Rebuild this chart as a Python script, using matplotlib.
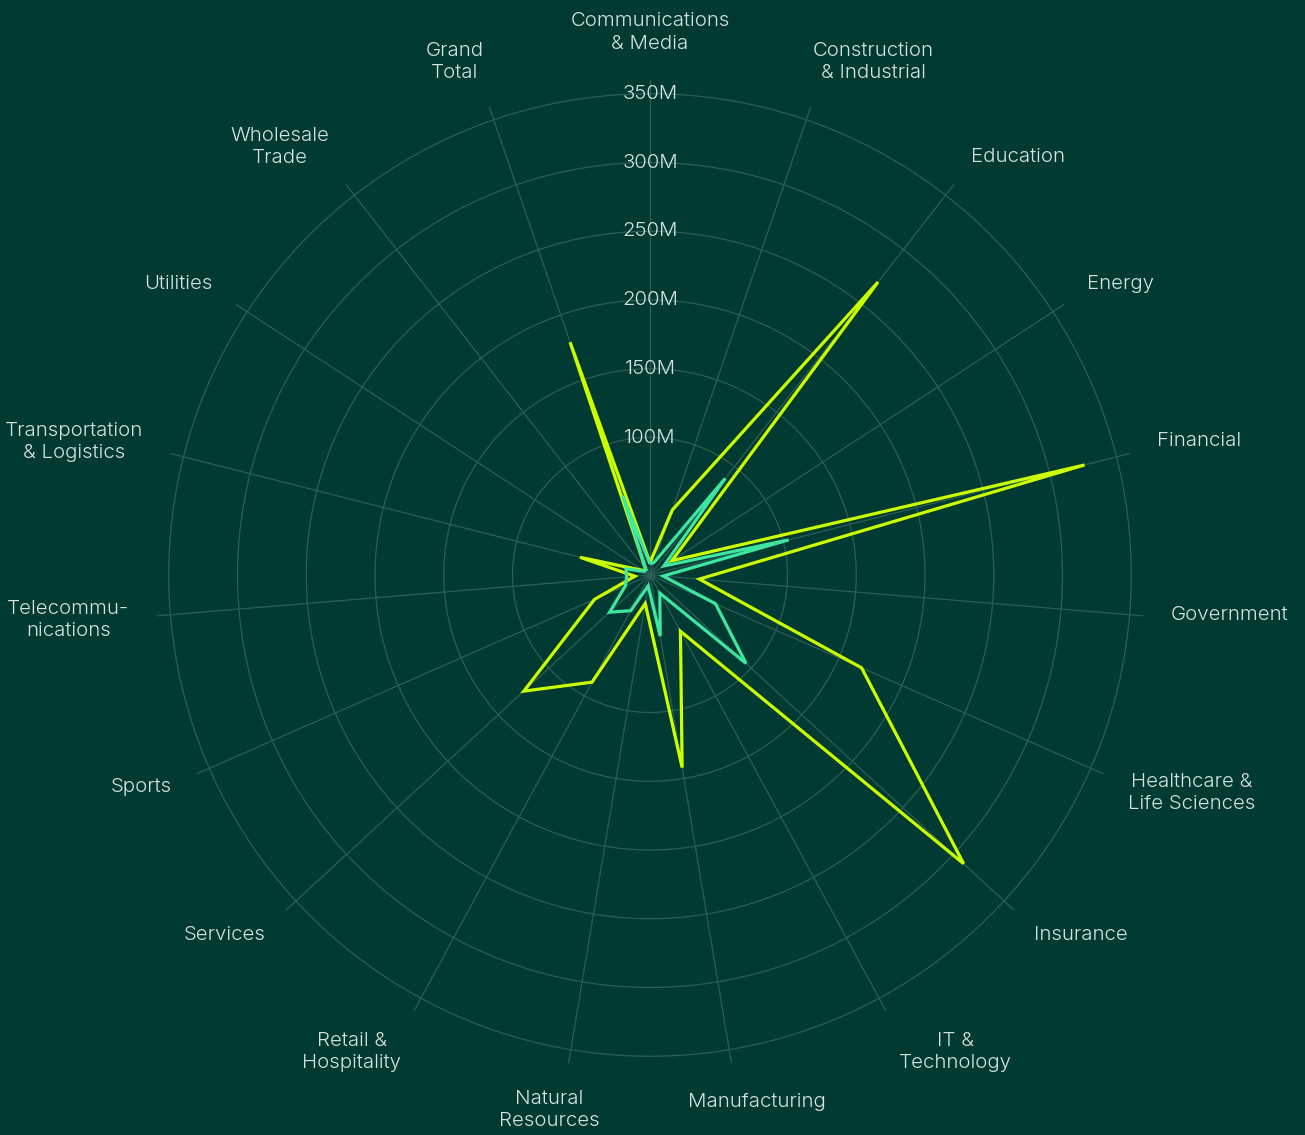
import numpy as np
import matplotlib
matplotlib.use("Agg")
import matplotlib.pyplot as plt

# ---- data -------------------------------------------------------------
categories = [
    "Communications\n& Media", "Construction\n& Industrial", "Education",
    "Energy", "Financial", "Government", "Healthcare &\nLife Sciences",
    "Insurance", "IT &\nTechnology", "Manufacturing", "Natural\nResources",
    "Retail &\nHospitality", "Services", "Sports", "Telecommu-\nnications",
    "Transportation\n& Logistics", "Utilities", "Wholesale\nTrade",
    "Grand\nTotal",
]
# values in millions
primary_values = [9, 50, 270, 19, 326, 36, 168, 310, 46.5, 142, 21, 88.6,
                  124.7, 44, 11, 52.6, 6, 5, 179]
secondary_values = [8, 10, 89, 12, 104, 9.5, 52, 95, 15, 45, 8, 29.5,
                    40, 19.5, 17, 18, 5, 5, 61]
ring_values = [100, 150, 200, 250, 300, 350]
ring_labels = ["100M", "150M", "200M", "250M", "300M", "350M"]

# ---- style ------------------------------------------------------------
BG = "#013a32"
GRID = "#2c5e56"
TEXT = "#d5e2dc"
LIME = "#ccff00"
MINT = "#3ee6a0"
FS = 14.7
plt.rcParams["font.family"] = ["Inter", "DejaVu Sans"]
plt.rcParams["font.weight"] = 300

W, H, DPI = 1305, 1135, 100
fig = plt.figure(figsize=(W / DPI, H / DPI), dpi=DPI, facecolor=BG)

R_MAX = 360.0
radius_px = 495.0
cx, cy = 650.0, 575.0
ax = fig.add_axes([(cx - radius_px) / W, (H - cy - radius_px) / H,
                   2 * radius_px / W, 2 * radius_px / H], projection="polar")
ax.set_facecolor(BG)
ax.set_theta_zero_location("N")
ax.set_theta_direction(-1)
ax.set_ylim(0, R_MAX)
ax.spines["polar"].set_visible(False)
ax.grid(False)
ax.set_xticks([])
ax.set_yticks([])

n = len(categories)
angles = np.arange(n) * 2 * np.pi / n

# rings and spokes
ring_theta = np.linspace(0, 2 * np.pi, 400)
for v in ring_values:
    ax.plot(ring_theta, np.full_like(ring_theta, v), color=GRID, lw=0.9,
            zorder=1)
for a in angles:
    ax.plot([a, a], [0, R_MAX], color=GRID, lw=0.9, zorder=1)

# series
closed = np.append(angles, angles[0])
for vals, col, z in ((primary_values, LIME, 3), (secondary_values, MINT, 4)):
    ax.plot(closed, np.append(vals, vals[0]), color=col, lw=2.3, zorder=z,
            solid_joinstyle="miter", solid_capstyle="butt")

# radial tick labels along the top spoke
for v, lab in zip(ring_values, ring_labels):
    ax.text(0, v, lab, color=TEXT, fontsize=FS, ha="center", va="center",
            zorder=5, fontweight=300)

# category labels placed just outside the grid
label_r = 380.0
texts = []
for a, lab in zip(angles, categories):
    t = ax.annotate(lab, xy=(a, label_r), xytext=(0, 0),
                    textcoords="offset pixels", ha="center", va="center",
                    multialignment="center", color=TEXT, fontsize=FS,
                    fontweight=300, annotation_clip=False, linespacing=1.3)
    texts.append(t)

fig.canvas.draw()
renderer = fig.canvas.get_renderer()
for a, t, lab in zip(angles, texts, categories):
    bb = t.get_window_extent(renderer)
    w, h = bb.width, bb.height
    s, c = np.sin(a), np.cos(a)
    dx = w / 2 * np.sign(s) * min(1.0, (abs(s) / 0.35) ** 1.6)
    dy = c * h / 2
    if "\n" not in lab:
        dy += -3 + 8 * (1 - abs(c))
    t.xyann = (dx, dy)

fig.savefig("out.png", dpi=DPI, facecolor=BG)
